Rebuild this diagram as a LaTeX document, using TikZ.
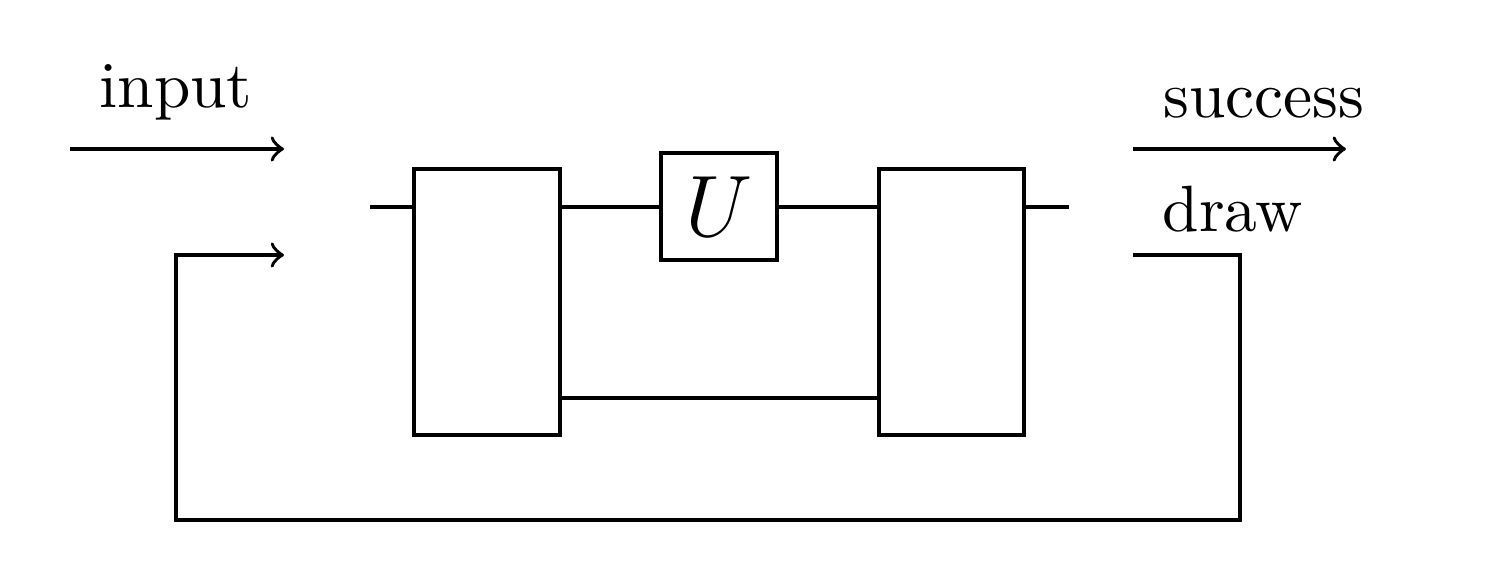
\documentclass[tikz,border=0pt]{standalone}
\begin{document}
\begin{tikzpicture}[x=0.0058cm,y=-0.0058cm,line width=0.6pt,
  lbl/.style={scale=1.08}]
\useasboundingbox (0,0) rectangle (1492,565);
\draw (414,169) rectangle (560,435);
\draw (879,169) rectangle (1024,435);
\node[draw,minimum width=116*0.0058cm,minimum height=107*0.0058cm,inner sep=0pt] (U) at (719,206.5) {\fontsize{13.5}{16}\selectfont$U$};
\coordinate (l1) at (370,207); \coordinate (l1e) at (414,207);
\coordinate (b1r) at (560,207); \coordinate (b2l) at (879,207);
\coordinate (b2r) at (1024,207); \coordinate (r1) at (1069,207);
\draw (l1) -- (l1e);
\draw (b1r) -- (U.west |- b1r);
\draw (U.east |- b2l) -- (b2l);
\draw (b2r) -- (r1);
\coordinate (lb1) at (560,398); \coordinate (lb2) at (879,398);
\draw (lb1) -- (lb2);
\coordinate (in1) at (70,149); \coordinate (in2) at (284,149);
\draw[->] (in1) -- (in2);
\node[lbl] (input) at (176,92) {input};
\coordinate (fb1) at (1133,255); \coordinate (fb2) at (1240,255);
\coordinate (fb3) at (1240,520); \coordinate (fb4) at (176,520);
\coordinate (fb5) at (176,255); \coordinate (fb6) at (284,255);
\draw[->] (fb1) -- (fb2) -- (fb3) -- (fb4) -- (fb5) -- (fb6);
\coordinate (s1) at (1133,149); \coordinate (s2) at (1346,149);
\draw[->] (s1) -- (s2);
\node[lbl] (succ) at (1264,103) {success};
\node[lbl] (drw) at (1233,209) {draw};
\end{tikzpicture}
\end{document}
